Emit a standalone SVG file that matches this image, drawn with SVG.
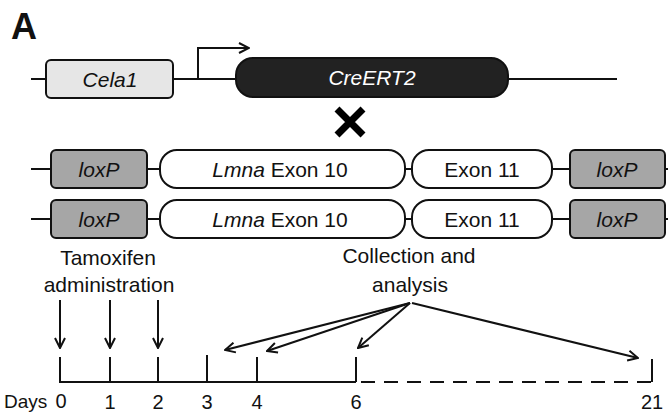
<svg xmlns="http://www.w3.org/2000/svg" width="668" height="416" viewBox="0 0 668 416">
<style>
text{font-family:"Liberation Sans",Arial,sans-serif;fill:#111}
.ln{stroke:#111;stroke-width:2;fill:none}
.box{stroke:#111;stroke-width:2}
.lbl{font-size:21px;text-anchor:middle}
.it{font-style:italic}
.tl{font-size:20px;text-anchor:middle}
</style>
<defs>
<marker id="ah" viewBox="0 0 12 12" refX="11" refY="6" markerWidth="12" markerHeight="12" markerUnits="userSpaceOnUse" orient="auto">
<path d="M1,1 L11,6 L1,11" fill="none" stroke="#111" stroke-width="2"/>
</marker>
</defs>
<rect width="668" height="416" fill="#fff"/>
<text x="11" y="39" font-size="36" font-weight="bold">A</text>

<g id="connectors">
<line class="ln" x1="31" y1="79" x2="46" y2="79"/>
<line class="ln" x1="173" y1="79" x2="236" y2="79"/>
<line class="ln" x1="508" y1="79" x2="617" y2="79"/>
<path class="ln" d="M198,79 V48 H249" marker-end="url(#ah)"/>
<line class="ln" x1="31" y1="169" x2="51" y2="169"/>
<line class="ln" x1="147" y1="169" x2="160" y2="169"/>
<line class="ln" x1="405" y1="169" x2="412" y2="169"/>
<line class="ln" x1="552" y1="169" x2="570" y2="169"/>
<line class="ln" x1="665" y1="169" x2="668" y2="169"/>
<line class="ln" x1="31" y1="219" x2="51" y2="219"/>
<line class="ln" x1="147" y1="219" x2="160" y2="219"/>
<line class="ln" x1="405" y1="219" x2="412" y2="219"/>
<line class="ln" x1="552" y1="219" x2="570" y2="219"/>
<line class="ln" x1="665" y1="219" x2="668" y2="219"/>
<line class="ln" x1="60" y1="300" x2="60" y2="348" marker-end="url(#ah)"/>
<line class="ln" x1="110" y1="300" x2="110" y2="348" marker-end="url(#ah)"/>
<line class="ln" x1="158" y1="300" x2="158" y2="348" marker-end="url(#ah)"/>
<line class="ln" x1="410" y1="303" x2="225" y2="350" marker-end="url(#ah)"/>
<line class="ln" x1="410" y1="303" x2="267" y2="351" marker-end="url(#ah)"/>
<line class="ln" x1="410" y1="303" x2="358" y2="348" marker-end="url(#ah)"/>
<line class="ln" x1="412" y1="303" x2="638" y2="358" marker-end="url(#ah)"/>
</g>

<g id="cela1"><rect class="box" x="46" y="60" width="127" height="38" rx="5" fill="#e6e6e6"/><text class="lbl it" x="110" y="87">Cela1</text></g>
<g id="creert2"><rect class="box" x="236" y="58" width="272" height="39" rx="17" fill="#222"/><text class="lbl it" x="372" y="85" style="fill:#fff">CreERT2</text></g>
<g id="cross"><path d="M337,109 L363,135 M363,109 L337,135" stroke="#000" stroke-width="7"/></g>

<g id="loxp1a"><rect class="box" x="51" y="150" width="96" height="38" rx="5" fill="#a6a6a6"/><text class="lbl it" x="99" y="177">loxP</text></g>
<g id="exon10a"><rect class="box" x="160" y="150" width="245" height="38" rx="17" fill="#fff"/><text class="lbl" x="280" y="177"><tspan class="it">Lmna</tspan> Exon 10</text></g>
<g id="exon11a"><rect class="box" x="412" y="150" width="140" height="38" rx="17" fill="#fff"/><text class="lbl" x="482" y="177">Exon 11</text></g>
<g id="loxp1b"><rect class="box" x="570" y="150" width="95" height="38" rx="5" fill="#a6a6a6"/><text class="lbl it" x="617" y="177">loxP</text></g>

<g id="loxp2a"><rect class="box" x="51" y="200" width="96" height="38" rx="5" fill="#a6a6a6"/><text class="lbl it" x="99" y="227">loxP</text></g>
<g id="exon10b"><rect class="box" x="160" y="200" width="245" height="38" rx="17" fill="#fff"/><text class="lbl" x="280" y="227"><tspan class="it">Lmna</tspan> Exon 10</text></g>
<g id="exon11b"><rect class="box" x="412" y="200" width="140" height="38" rx="17" fill="#fff"/><text class="lbl" x="482" y="227">Exon 11</text></g>
<g id="loxp2b"><rect class="box" x="570" y="200" width="95" height="38" rx="5" fill="#a6a6a6"/><text class="lbl it" x="617" y="227">loxP</text></g>

<g id="tamoxifen"><text class="lbl" x="108" y="265">Tamoxifen</text><text class="lbl" x="109" y="292">administration</text></g>
<g id="collection"><text class="lbl" x="409" y="263">Collection and</text><text class="lbl" x="410" y="292">analysis</text></g>

<g id="timeline">
<path class="ln" d="M60,357 V382 H356 M110,357 V382 M158,357 V382 M207,355 V382 M257,357 V382 M356,357 V382 M652,359 V382"/>
<line class="ln" x1="356" y1="382" x2="652" y2="382" stroke-dasharray="14,9" stroke-dashoffset="-5"/>
<text x="4" y="408" font-size="19">Days</text>
<text class="tl" x="61" y="408">0</text>
<text class="tl" x="110" y="409">1</text>
<text class="tl" x="158" y="409">2</text>
<text class="tl" x="207" y="409">3</text>
<text class="tl" x="257" y="409">4</text>
<text class="tl" x="356" y="409">6</text>
<text class="tl" x="652" y="409">21</text>
</g>
</svg>
